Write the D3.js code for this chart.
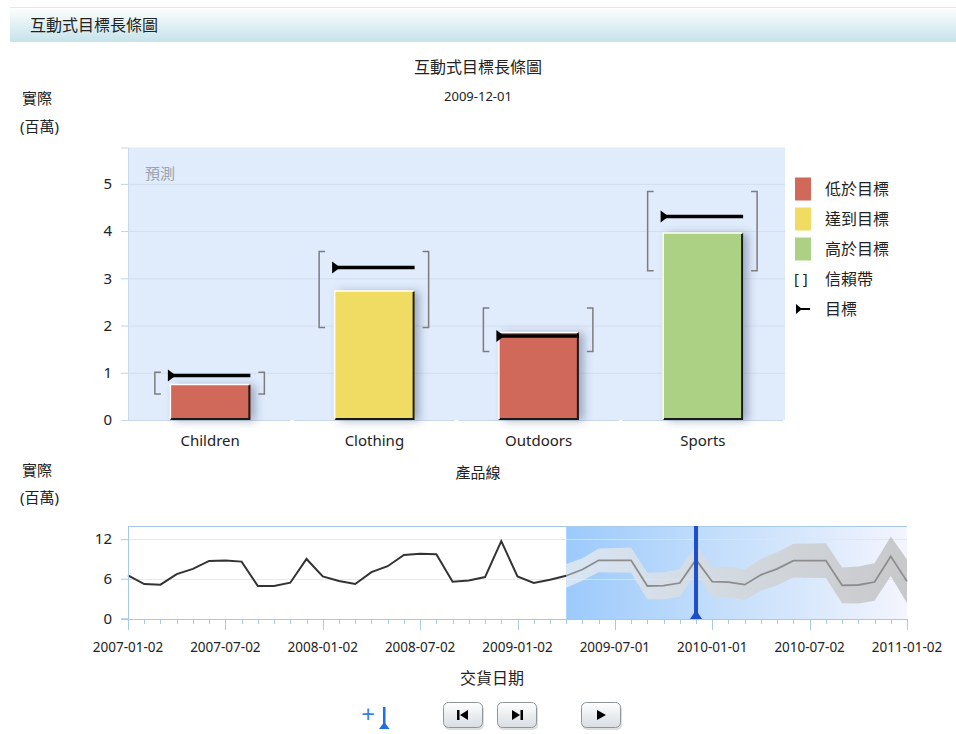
<!DOCTYPE html>
<html><head><meta charset="utf-8">
<script src="https://cdn.jsdelivr.net/npm/d3@7"></script>
<style>
body{margin:0;background:#fff;}
text{font-family:"Noto Sans","Noto Sans CJK TC",sans-serif;fill:#222;}
</style></head>
<body><svg id="c" width="956" height="734"></svg>
<script>
// ---------- data ----------
const categories = ["Children","Clothing","Outdoors","Sports"];
const actual = [0.76, 2.74, 1.87, 3.97];
const target = [0.94, 3.23, 1.78, 4.31];
const bandLow = [0.55, 1.96, 1.45, 3.16];
const bandHigh = [1.01, 3.57, 2.37, 4.84];
const status = ["low","met","low","high"];
const topYTicks = [0,1,2,3,4,5];
const legendLabels = ["低於目標","達到目標","高於目標","信賴帶","目標"];

const history = [6.5,5.2,5.1,6.7,7.5,8.7,8.75,8.6,4.9,4.9,5.4,9.0,6.35,5.65,5.2,7.0,7.9,9.6,9.8,9.7,5.55,5.75,6.25,11.7,6.35,5.35,5.85,6.45];
const forecastStart = 27;
const forecast = [6.45,7.4,8.8,8.8,8.8,4.9,4.95,5.35,8.9,5.55,5.5,5.1,6.6,7.5,8.75,8.75,8.75,5.0,5.05,5.5,9.4,5.6];
const forecastLow = [4.65,5.7,7.0,6.95,6.9,2.9,2.9,3.25,6.75,3.3,3.2,2.75,4.2,5.0,6.2,6.15,6.1,2.3,2.25,2.65,6.4,2.3];
const forecastHigh = [8.25,9.1,10.6,10.65,10.7,6.9,7.0,7.45,11.05,7.8,7.8,7.45,9.0,10.0,11.3,11.35,11.4,7.7,7.85,8.35,12.4,8.9];
const xTickIdx = [0,6,12,18,24,30,36,42,48];
const xTickLabels = ["2007-01-02","2007-07-02","2008-01-02","2008-07-02","2009-01-02","2009-07-01","2010-01-01","2010-07-02","2011-01-02"];
const lowYTicks = [0,6,12];
const selectedIdx = 35;

const colors = {low:"#d0695a", met:"#f0db63", high:"#acd185"};

const svg = d3.select("#c");
const defs = svg.append("defs");

// header gradient
const hg = defs.append("linearGradient").attr("id","hg").attr("x1",0).attr("y1",0).attr("x2",0).attr("y2",1);
hg.append("stop").attr("offset","0%").attr("stop-color","#fbfdfd");
hg.append("stop").attr("offset","100%").attr("stop-color","#c5e3ea");
svg.append("line").attr("x1",10).attr("x2",956).attr("y1",7.5).attr("y2",7.5).attr("stroke","#e6e6e6");
svg.append("rect").attr("x",10).attr("y",9).attr("width",946).attr("height",33).attr("fill","url(#hg)");
svg.append("text").attr("x",30).attr("y",31).attr("font-size",16).text("互動式目標長條圖");

// titles
svg.append("text").attr("x",478).attr("y",73).attr("text-anchor","middle").attr("font-size",16).text("互動式目標長條圖");
svg.append("text").attr("x",478).attr("y",101).attr("text-anchor","middle").attr("font-size",13).text("2009-12-01");
svg.append("text").attr("x",22).attr("y",104).attr("font-size",15).text("實際");
svg.append("text").attr("x",20).attr("y",132).attr("font-size",15).text("(百萬)");

// ---------- top chart ----------
const L = 128, R = 785, T = 147.5, B = 420;
const x = d3.scaleBand().domain(categories).range([L, R]).paddingInner(0.51).paddingOuter(0.255);
const y = d3.scaleLinear().domain([0, 5.77]).range([B, T]);

svg.append("rect").attr("x",L).attr("y",T).attr("width",R-L).attr("height",B-T).attr("fill","#e0ebfc");
svg.append("g").selectAll("line").data(topYTicks.slice(1)).join("line")
  .attr("x1",L).attr("x2",R).attr("y1",d=>y(d)+0.5).attr("y2",d=>y(d)+0.5).attr("stroke","#d2def0");

const yAx = svg.append("g").attr("transform",`translate(${L},0)`)
  .call(d3.axisLeft(y).tickValues(topYTicks).tickFormat(d3.format("d")).tickSize(7).tickPadding(9));
yAx.select(".domain").attr("stroke","#c9d8ea");
yAx.selectAll(".tick line").attr("stroke","#c2d2e4");
yAx.selectAll(".tick text").attr("font-size",15).attr("fill","#222");

// bottom axis line with gaps
categories.forEach((c,i)=>{
  const s = L + i*(R-L)/categories.length, e = L + (i+1)*(R-L)/categories.length;
  svg.append("line").attr("x1", i===0? L-7 : s+2).attr("x2", e-2).attr("y1",B+0.5).attr("y2",B+0.5).attr("stroke","#c9d8ea");
});

svg.append("text").attr("x",145).attr("y",179).attr("font-size",15).style("fill","#9aa3ae").text("預測");

// shadow filter
const f = defs.append("filter").attr("id","sh").attr("x","-20%").attr("y","-20%").attr("width","160%").attr("height","140%");
f.append("feDropShadow").attr("dx",5).attr("dy",1).attr("stdDeviation",4).attr("flood-color","#3a4a6a").attr("flood-opacity",0.4);

const bars = svg.append("g");
categories.forEach((c,i)=>{
  const bx = x(c), bw = x.bandwidth(), by = y(actual[i]);
  const g = bars.append("g");
  g.append("rect").attr("x",bx).attr("y",by).attr("width",bw).attr("height",B-by)
    .attr("fill",colors[status[i]]).attr("filter","url(#sh)");
  g.append("path").attr("d",`M${bx+bw-1},${by+1}V${B-1}H${bx+1}`).attr("fill","none").attr("stroke","#1a1a1a").attr("stroke-width",2);
  g.append("path").attr("d",`M${bx+0.5},${B-1}V${by+0.5}H${bx+bw-1}`).attr("fill","none").attr("stroke","#ffffff").attr("stroke-width",1.5);
  const lx = bx - 15, rx = bx + bw + 14, ty = y(bandHigh[i]), byy = y(bandLow[i]);
  g.append("path").attr("d",`M${lx+6},${ty}H${lx}V${byy}H${lx+6}`).attr("fill","none").attr("stroke","#7d7d7d").attr("stroke-width",1.5);
  g.append("path").attr("d",`M${rx-6},${ty}H${rx}V${byy}H${rx-6}`).attr("fill","none").attr("stroke","#7d7d7d").attr("stroke-width",1.5);
  const tyy = y(target[i]);
  g.append("line").attr("x1",bx).attr("x2",bx+bw).attr("y1",tyy).attr("y2",tyy).attr("stroke","#000").attr("stroke-width",3.5);
  g.append("path").attr("d",`M${bx-2},${tyy-6}L${bx+6},${tyy}L${bx-2},${tyy+6}Z`).attr("fill","#000");
  svg.append("text").attr("x",bx+bw/2).attr("y",446).attr("text-anchor","middle").attr("font-size",15).text(c);
});
svg.append("text").attr("x",478).attr("y",478).attr("text-anchor","middle").attr("font-size",15).text("產品線");

// legend
const lg = svg.append("g");
const legY = [189,219,249,279,309];
["low","met","high"].forEach((k,i)=>{
  lg.append("rect").attr("x",795).attr("y",legY[i]-11.5).attr("width",16).attr("height",23).attr("fill",colors[k]);
});
lg.append("text").attr("x",794).attr("y",legY[3]+5).attr("font-size",15).text("[ ]");
lg.append("path").attr("d",`M796,${legY[4]-5}L802,${legY[4]}L796,${legY[4]+5}Z`).attr("fill","#000");
lg.append("line").attr("x1",796).attr("x2",810).attr("y1",legY[4]).attr("y2",legY[4]).attr("stroke","#000").attr("stroke-width",2);
legendLabels.forEach((t,i)=>{
  lg.append("text").attr("x",825).attr("y",legY[i]+6).attr("font-size",16).text(t);
});

// ---------- bottom chart ----------
svg.append("text").attr("x",22).attr("y",476).attr("font-size",15).text("實際");
svg.append("text").attr("x",20).attr("y",503).attr("font-size",15).text("(百萬)");

const L2 = 128, R2 = 907, T2 = 526, B2 = 619;
const x2 = d3.scaleLinear().domain([0,48]).range([L2,R2]);
const y2 = d3.scaleLinear().domain([0,14]).range([B2-0.7, T2]);

const bgG = defs.append("linearGradient").attr("id","fbg").attr("x1",0).attr("x2",1).attr("y1",0).attr("y2",0);
bgG.append("stop").attr("offset","0%").attr("stop-color","#9ccafb");
bgG.append("stop").attr("offset","40%").attr("stop-color","#c0dcfb");
bgG.append("stop").attr("offset","70%").attr("stop-color","#d8e8fc");
bgG.append("stop").attr("offset","100%").attr("stop-color","#f4f5fe");
svg.append("rect").attr("x",x2(forecastStart)).attr("y",T2).attr("width",R2-x2(forecastStart)).attr("height",B2-T2).attr("fill","url(#fbg)");

svg.append("g").selectAll("line").data(lowYTicks.slice(1)).join("line")
  .attr("x1",L2).attr("x2",R2).attr("y1",d=>Math.round(y2(d))+0.5).attr("y2",d=>Math.round(y2(d))+0.5)
  .attr("stroke","#e4e4e4").attr("stroke-opacity",0.8);

const bandG = defs.append("linearGradient").attr("id","band").attr("gradientUnits","userSpaceOnUse")
  .attr("x1",x2(forecastStart)).attr("x2",R2).attr("y1",0).attr("y2",0);
bandG.append("stop").attr("offset","0%").attr("stop-color","#f0f0f0").attr("stop-opacity",0.7);
bandG.append("stop").attr("offset","45%").attr("stop-color","#d8d8d8").attr("stop-opacity",0.75);
bandG.append("stop").attr("offset","100%").attr("stop-color","#bdbdbd").attr("stop-opacity",0.8);
const fData = forecast.map((v,i)=>({i:forecastStart+i, v, lo:forecastLow[i], hi:forecastHigh[i]}));
svg.append("path").datum(fData)
  .attr("d", d3.area().x(d=>x2(d.i)).y0(d=>y2(d.lo)).y1(d=>y2(d.hi)))
  .attr("fill","url(#band)");
svg.append("path").datum(fData)
  .attr("d", d3.line().x(d=>x2(d.i)).y(d=>y2(d.v)))
  .attr("fill","none").attr("stroke","#8c8c8c").attr("stroke-width",1.8);

svg.append("path").datum(history.map((v,i)=>({i,v})))
  .attr("d", d3.line().x(d=>x2(d.i)).y(d=>y2(d.v)))
  .attr("fill","none").attr("stroke","#333").attr("stroke-width",2);

svg.append("line").attr("x1",L2).attr("x2",R2).attr("y1",T2+0.5).attr("y2",T2+0.5).attr("stroke","#a9c9ea");
svg.append("line").attr("x1",L2+0.5).attr("x2",L2+0.5).attr("y1",T2).attr("y2",B2).attr("stroke","#a9c9ea");
svg.append("line").attr("x1",L2-7).attr("x2",R2).attr("y1",B2+0.5).attr("y2",B2+0.5).attr("stroke","#a9c9ea");

const y2Ax = svg.append("g").attr("transform",`translate(${L2},0)`)
  .call(d3.axisLeft(y2).tickValues(lowYTicks).tickSize(7).tickPadding(9));
y2Ax.select(".domain").remove();
y2Ax.selectAll(".tick line").attr("stroke","#a9c9ea");
y2Ax.selectAll(".tick text").attr("font-size",15).attr("fill","#222");

const months = d3.range(0,49);
svg.append("g").selectAll("line").data(months).join("line")
  .attr("x1",d=>Math.round(x2(d))+0.5).attr("x2",d=>Math.round(x2(d))+0.5)
  .attr("y1",B2).attr("y2",d=>xTickIdx.includes(d)? B2+11 : B2+5)
  .attr("stroke","#a9c9ea");
svg.append("g").selectAll("text").data(xTickIdx).join("text")
  .attr("x",d=>x2(d)).attr("y",652).attr("text-anchor","middle").attr("font-size",13.5)
  .text((d,i)=>xTickLabels[i]);
svg.append("text").attr("x",492).attr("y",684).attr("text-anchor","middle").attr("font-size",16).text("交貨日期");

const mx = x2(selectedIdx);
svg.append("rect").attr("x",mx-2).attr("y",T2).attr("width",4).attr("height",B2-T2).attr("fill","#1e4fc7");
svg.append("path").attr("d",`M${mx-6},${B2}L${mx},${B2-9}L${mx+6},${B2}Z`).attr("fill","#1e4fc7");

// ---------- controls ----------
svg.append("text").attr("x",368).attr("y",723).attr("text-anchor","middle").attr("font-size",24).style("fill","#3b7fe6").text("+");
svg.append("rect").attr("x",383).attr("y",707).attr("width",2.5).attr("height",21).attr("fill","#1f6fe0");
svg.append("path").attr("d","M379,729L384.2,722L389.5,729Z").attr("fill","#1f6fe0");

const btnG = defs.append("linearGradient").attr("id","btn").attr("x1",0).attr("x2",0).attr("y1",0).attr("y2",1);
btnG.append("stop").attr("offset","0%").attr("stop-color","#ffffff");
btnG.append("stop").attr("offset","100%").attr("stop-color","#d7dde2");
const btnX = [443, 497, 581];
btnX.forEach((bx,i)=>{
  svg.append("rect").attr("x",bx+1).attr("y",704).attr("width",40).attr("height",26).attr("rx",5).attr("fill","#c8c8c8").attr("opacity",0.6);
  svg.append("rect").attr("x",bx+0.5).attr("y",702.5).attr("width",39).attr("height",25).attr("rx",5)
    .attr("fill","url(#btn)").attr("stroke","#8e959b");
  const cx = bx+20, cy = 715;
  if(i===0){
    svg.append("rect").attr("x",cx-6).attr("y",cy-5).attr("width",2.5).attr("height",10).attr("fill","#000");
    svg.append("path").attr("d",`M${cx+5},${cy-5}L${cx-3},${cy}L${cx+5},${cy+5}Z`).attr("fill","#000");
  } else if(i===1){
    svg.append("path").attr("d",`M${cx-5},${cy-5}L${cx+3},${cy}L${cx-5},${cy+5}Z`).attr("fill","#000");
    svg.append("rect").attr("x",cx+3.5).attr("y",cy-5).attr("width",2.5).attr("height",10).attr("fill","#000");
  } else {
    svg.append("path").attr("d",`M${cx-4},${cy-5}L${cx+5},${cy}L${cx-4},${cy+5}Z`).attr("fill","#000");
  }
});
</script></body></html>
